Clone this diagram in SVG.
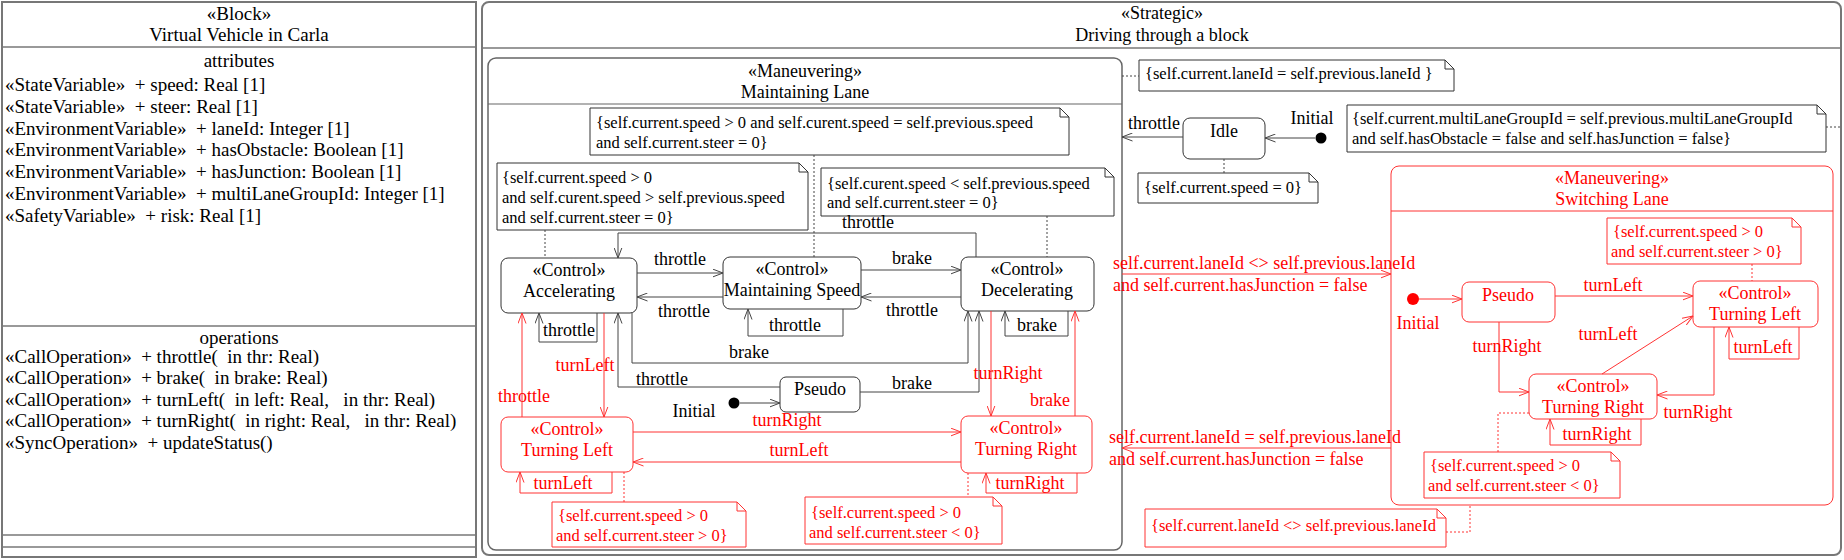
<svg xmlns="http://www.w3.org/2000/svg" width="1844" height="560" viewBox="0 0 1844 560">
<style>
text{font-family:"Liberation Serif","Times New Roman",serif;font-size:18px;fill:#000;white-space:pre}
.bk{font-size:19px}
.n{font-size:16.5px}
.r{fill:#f00}
.c{text-anchor:middle}
.st{fill:#fff;stroke:#333;stroke-width:1}
.rst{fill:#fff;stroke:#f33;stroke-width:1}
.note{fill:#fff;stroke:#333;stroke-width:1}
.rnote{fill:#fff;stroke:#f33;stroke-width:1}
.fold{fill:none;stroke:#333;stroke-width:1}
.rfold{fill:none;stroke:#f33;stroke-width:1}
.e{fill:none;stroke:#444;stroke-width:1;marker-end:url(#ab)}
.re{fill:none;stroke:#f33;stroke-width:1;marker-end:url(#ar)}
.d{fill:none;stroke:#444;stroke-width:1;stroke-dasharray:2 2}
.rd{fill:none;stroke:#f33;stroke-width:1;stroke-dasharray:2 2}
.frame{fill:none;stroke:#777;stroke-width:2}
.sep{stroke:#777;stroke-width:1.5}
</style>
<defs>
<marker id="ab" viewBox="0 0 11 9" refX="10.5" refY="4.5" markerWidth="11" markerHeight="9" markerUnits="userSpaceOnUse" orient="auto"><path d="M0,0.5 L10.5,4.5 L0,8.5" fill="none" stroke="#444" stroke-width="1"/></marker>
<marker id="ar" viewBox="0 0 11 9" refX="10.5" refY="4.5" markerWidth="11" markerHeight="9" markerUnits="userSpaceOnUse" orient="auto"><path d="M0,0.5 L10.5,4.5 L0,8.5" fill="none" stroke="#f33" stroke-width="1"/></marker>
</defs>
<rect width="1844" height="560" fill="#fff"/>

<g id="block">
<rect class="frame" x="2" y="2" width="474" height="555"/>
<line class="sep" x1="2" y1="47" x2="476" y2="47"/>
<line class="sep" x1="2" y1="326" x2="476" y2="326"/>
<line class="sep" x1="2" y1="535" x2="476" y2="535"/>
<line class="sep" x1="2" y1="547" x2="476" y2="547"/>
<text class="bk c" x="239" y="20">«Block»</text>
<text class="bk c" x="239" y="41">Virtual Vehicle in Carla</text>
<text class="bk c" x="239" y="67">attributes</text>
<text class="bk" x="5" y="91" xml:space="preserve">«StateVariable»  + speed: Real [1]</text>
<text class="bk" x="5" y="113" xml:space="preserve">«StateVariable»  + steer: Real [1]</text>
<text class="bk" x="5" y="135" xml:space="preserve">«EnvironmentVariable»  + laneId: Integer [1]</text>
<text class="bk" x="5" y="156" xml:space="preserve">«EnvironmentVariable»  + hasObstacle: Boolean [1]</text>
<text class="bk" x="5" y="178" xml:space="preserve">«EnvironmentVariable»  + hasJunction: Boolean [1]</text>
<text class="bk" x="5" y="200" xml:space="preserve">«EnvironmentVariable»  + multiLaneGroupId: Integer [1]</text>
<text class="bk" x="5" y="222" xml:space="preserve">«SafetyVariable»  + risk: Real [1]</text>
<text class="bk c" x="239" y="344">operations</text>
<text class="bk" x="5" y="363" xml:space="preserve">«CallOperation»  + throttle(  in thr: Real)</text>
<text class="bk" x="5" y="384" xml:space="preserve">«CallOperation»  + brake(  in brake: Real)</text>
<text class="bk" x="5" y="406" xml:space="preserve">«CallOperation»  + turnLeft(  in left: Real,   in thr: Real)</text>
<text class="bk" x="5" y="427" xml:space="preserve">«CallOperation»  + turnRight(  in right: Real,   in thr: Real)</text>
<text class="bk" x="5" y="449" xml:space="preserve">«SyncOperation»  + updateStatus()</text>
</g>

<g id="strategic">
<rect class="frame" x="482" y="2" width="1359" height="553" rx="7"/>
<line class="sep" x1="482" y1="48" x2="1841" y2="48"/>
<text class="c" x="1162" y="19">«Strategic»</text>
<text class="c" x="1162" y="41">Driving through a block</text>
</g>

<g id="maintaining-lane">
<rect x="488" y="58" width="634" height="492" rx="8" fill="none" stroke="#666" stroke-width="1.5"/>
<line x1="488" y1="104" x2="1122" y2="104" stroke="#666" stroke-width="1.2"/>
<text class="c" x="805" y="77">«Maneuvering»</text>
<text class="c" x="805" y="98">Maintaining Lane</text>
</g>

<g id="switching-lane">
<rect x="1391" y="166" width="442" height="339" rx="8" fill="none" stroke="#f33" stroke-width="1"/>
<line x1="1391" y1="211" x2="1833" y2="211" stroke="#f33" stroke-width="1"/>
<text class="c r" x="1612" y="184">«Maneuvering»</text>
<text class="c r" x="1612" y="205">Switching Lane</text>
</g>

<g id="note-ms">
<path class="note" d="M590,108H1060L1069,117V155H590Z"/><path class="fold" d="M1060,108V117H1069"/>
<text class="n" x="596" y="128">{self.current.speed &gt; 0 and self.curent.speed = self.previous.speed</text>
<text class="n" x="596" y="148">and self.current.steer = 0}</text>
</g>
<g id="note-acc">
<path class="note" d="M497,163H799L808,172V230H497Z"/><path class="fold" d="M799,163V172H808"/>
<text class="n" x="502" y="183">{self.current.speed &gt; 0</text>
<text class="n" x="502" y="203">and self.curent.speed &gt; self.previous.speed</text>
<text class="n" x="502" y="223">and self.current.steer = 0}</text>
</g>
<g id="note-dec">
<path class="note" d="M821,168H1105L1114,177V216H821Z"/><path class="fold" d="M1105,168V177H1114"/>
<text class="n" x="827" y="189">{self.curent.speed &lt; self.previous.speed</text>
<text class="n" x="827" y="208">and self.current.steer = 0}</text>
</g>
<g id="note-lane">
<path class="note" d="M1139,60H1445L1454,69V91H1139Z"/><path class="fold" d="M1445,60V69H1454"/>
<text class="n" x="1145" y="79">{self.current.laneId = self.previous.laneId }</text>
</g>
<g id="note-idle">
<path class="note" d="M1138,173H1309L1318,182V203H1138Z"/><path class="fold" d="M1309,173V182H1318"/>
<text class="n" x="1144" y="193">{self.current.speed = 0}</text>
</g>
<g id="note-multilane">
<path class="note" d="M1347,105H1817L1826,114V152H1347Z"/><path class="fold" d="M1817,105V114H1826"/>
<text class="n" x="1352" y="124">{self.current.multiLaneGroupId = self.previous.multiLaneGroupId</text>
<text class="n" x="1352" y="144">and self.hasObstacle = false and self.hasJunction = false}</text>
</g>
<g id="note-sl-left">
<path class="rnote" d="M1607,218H1792L1801,227V264H1607Z"/><path class="rfold" d="M1792,218V227H1801"/>
<text class="n r" x="1613" y="237">{self.current.speed &gt; 0</text>
<text class="n r" x="1611" y="257">and self.current.steer &gt; 0}</text>
</g>
<g id="note-sl-right">
<path class="rnote" d="M1424,452H1611L1620,461V498H1424Z"/><path class="rfold" d="M1611,452V461H1620"/>
<text class="n r" x="1430" y="471">{self.current.speed &gt; 0</text>
<text class="n r" x="1428" y="491">and self.current.steer &lt; 0}</text>
</g>
<g id="note-sl-lane">
<path class="rnote" d="M1145,509H1437L1446,518V547H1145Z"/><path class="rfold" d="M1437,509V518H1446"/>
<text class="n r" x="1151" y="531">{self.current.laneId &lt;&gt; self.previous.laneId</text>
</g>
<g id="note-ml-left">
<path class="rnote" d="M552,502H737L746,511V547H552Z"/><path class="rfold" d="M737,502V511H746"/>
<text class="n r" x="558" y="521">{self.current.speed &gt; 0</text>
<text class="n r" x="556" y="541">and self.current.steer &gt; 0}</text>
</g>
<g id="note-ml-right">
<path class="rnote" d="M805,497H993L1002,506V544H805Z"/><path class="rfold" d="M993,497V506H1002"/>
<text class="n r" x="811" y="518">{self.current.speed &gt; 0</text>
<text class="n r" x="809" y="538">and self.current.steer &lt; 0}</text>
</g>

<g id="accelerating">
<rect class="st" x="501" y="258" width="136" height="55" rx="7"/>
<text class="c" x="569" y="276">«Control»</text>
<text class="c" x="569" y="297">Accelerating</text>
</g>
<g id="maintaining-speed">
<rect class="st" x="723" y="257" width="138" height="52" rx="7"/>
<text class="c" x="792" y="275">«Control»</text>
<text class="c" x="792" y="296">Maintaining Speed</text>
</g>
<g id="decelerating">
<rect class="st" x="961" y="257" width="133" height="54" rx="7"/>
<text class="c" x="1027" y="275">«Control»</text>
<text class="c" x="1027" y="296">Decelerating</text>
</g>
<g id="pseudo-ml">
<rect class="st" x="780" y="377" width="80" height="35" rx="6"/>
<text class="c" x="820" y="395">Pseudo</text>
</g>
<g id="initial-ml">
<circle cx="734" cy="403" r="5.5" fill="#000"/>
<text class="c" x="694" y="417">Initial</text>
</g>
<g id="turning-left-ml">
<rect class="rst" x="501" y="417" width="132" height="55" rx="7"/>
<text class="c r" x="567" y="435">«Control»</text>
<text class="c r" x="567" y="456">Turning Left</text>
</g>
<g id="turning-right-ml">
<rect class="rst" x="961" y="416" width="131" height="57" rx="7"/>
<text class="c r" x="1026" y="434">«Control»</text>
<text class="c r" x="1026" y="455">Turning Right</text>
</g>
<g id="idle">
<rect class="st" x="1183" y="118" width="82" height="41" rx="7"/>
<text class="c" x="1224" y="137">Idle</text>
</g>
<g id="initial-top">
<circle cx="1321" cy="138" r="5.5" fill="#000"/>
<text class="c" x="1312" y="124">Initial</text>
</g>
<g id="pseudo-sl">
<rect class="rst" x="1462" y="282" width="93" height="40" rx="7"/>
<text class="c r" x="1508" y="301">Pseudo</text>
</g>
<g id="initial-sl">
<circle cx="1413" cy="299" r="6" fill="#f00"/>
<text class="c r" x="1418" y="329">Initial</text>
</g>
<g id="turning-left-sl">
<rect class="rst" x="1693" y="281" width="125" height="46" rx="7"/>
<text class="c r" x="1755" y="299">«Control»</text>
<text class="c r" x="1755" y="320">Turning Left</text>
</g>
<g id="turning-right-sl">
<rect class="rst" x="1529" y="374" width="128" height="45" rx="7"/>
<text class="c r" x="1593" y="392">«Control»</text>
<text class="c r" x="1593" y="413">Turning Right</text>
</g>

<g id="connectors">
<path class="d" d="M814,155V257"/>
<path class="d" d="M545,230V258"/>
<path class="d" d="M1047,216V257"/>
<path class="d" d="M1122,76H1139"/>
<path class="d" d="M1224,159V173"/>
<path class="d" d="M1826,127H1841"/>
<path class="rd" d="M1752,264V281"/>
<path class="rd" d="M1529,413H1498V452"/>
<path class="rd" d="M1446,532H1470V505"/>
<path class="rd" d="M624,472V502"/>
<path class="rd" d="M968,473V497"/>

<path class="e" d="M637,273H723"/>
<text class="c" x="680" y="265">throttle</text>
<path class="e" d="M723,297H637"/>
<text class="c" x="684" y="317">throttle</text>
<path class="e" d="M861,270H961"/>
<text class="c" x="912" y="264">brake</text>
<path class="e" d="M961,297H861"/>
<text class="c" x="912" y="316">throttle</text>
<path class="e" d="M976,257V233H618V258"/>
<text class="c" x="868" y="228">throttle</text>
<path class="e" d="M597,313V342H539V313"/>
<text class="c" x="569" y="336">throttle</text>
<path class="e" d="M843,309V336H748V309"/>
<text class="c" x="795" y="331">throttle</text>
<path class="e" d="M1068,311V336H1005V311"/>
<text class="c" x="1037" y="331">brake</text>
<path class="e" d="M632,313V363H968V311"/>
<text class="c" x="749" y="358">brake</text>
<path class="e" d="M780,387H618V313"/>
<text class="c" x="662" y="385">throttle</text>
<path class="e" d="M860,392H979V311"/>
<text class="c" x="912" y="389">brake</text>
<path class="e" d="M740,403H780"/>

<path class="re" d="M522,417V313"/>
<text class="c r" x="524" y="402">throttle</text>
<path class="re" d="M604,313V417"/>
<text class="c r" x="585" y="371">turnLeft</text>
<path class="re" d="M633,432H961"/>
<text class="c r" x="787" y="426">turnRight</text>
<path class="re" d="M961,462H633"/>
<text class="c r" x="799" y="456">turnLeft</text>
<path class="re" d="M612,472V493H520V472"/>
<text class="c r" x="563" y="489">turnLeft</text>
<path class="re" d="M991,311V416"/>
<text class="c r" x="1008" y="379">turnRight</text>
<path class="re" d="M1075,416V311"/>
<text class="c r" x="1050" y="406">brake</text>
<path class="re" d="M1077,473V493H986V473"/>
<text class="c r" x="1030" y="489">turnRight</text>

<path class="e" d="M1315,138H1265"/>
<path class="e" d="M1183,137H1122"/>
<text class="c" x="1154" y="129">throttle</text>

<path class="re" d="M1122,274H1391"/>
<text class="r" x="1113" y="269">self.current.laneId &lt;&gt; self.previous.laneId</text>
<text class="r" x="1113" y="291">and self.current.hasJunction = false</text>
<path class="re" d="M1391,448H1122"/>
<text class="r" x="1109" y="443">self.current.laneId = self.previous.laneId</text>
<text class="r" x="1109" y="465">and self.current.hasJunction = false</text>

<path class="re" d="M1419,299H1462"/>
<path class="re" d="M1555,296H1693"/>
<text class="c r" x="1613" y="291">turnLeft</text>
<path class="re" d="M1499,322V392H1529"/>
<text class="c r" x="1507" y="352">turnRight</text>
<path class="re" d="M1602,374L1693,316"/>
<text class="c r" x="1608" y="340">turnLeft</text>
<path class="re" d="M1714,327V395H1657"/>
<text class="c r" x="1698" y="418">turnRight</text>
<path class="re" d="M1799,327V359H1729V327"/>
<text class="c r" x="1763" y="353">turnLeft</text>
<path class="re" d="M1641,419V445H1550V419"/>
<text class="c r" x="1597" y="440">turnRight</text>
</g>
</svg>
